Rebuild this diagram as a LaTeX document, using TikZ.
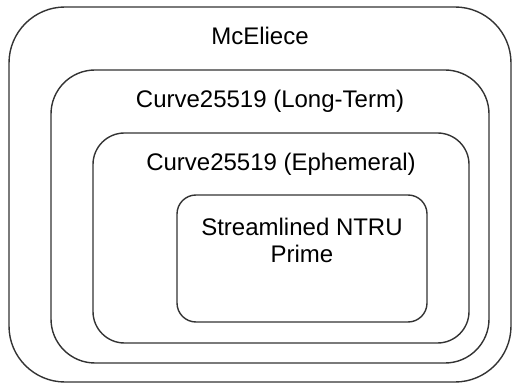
\documentclass[tikz,border=0pt]{standalone}
\usepackage{fontspec}
\setmainfont{Liberation Sans}
\usetikzlibrary{positioning}

\begin{document}
\begin{tikzpicture}
    [x=0.5pt,y=-0.5pt,
      layer/.style={rectangle,draw=black!80,line width=0.7pt,inner sep=0pt},
      caption/.style={inner sep=0pt,font=\fontsize{12}{13.5}\selectfont,align=center}
    ]
    \useasboundingbox (0,0) rectangle (513,384);

    % nested key-exchange layers, outer to inner
    \node [layer,minimum width=251pt,minimum height=187.5pt,rounded corners=28pt] (mceliece) at (260,194.5) {};
    \node [layer,minimum width=219pt,minimum height=146.5pt,rounded corners=22pt] (longTerm) at (270,216.5) {};
    \node [layer,minimum width=188pt,minimum height=105pt,rounded corners=15.75pt] (ephemeral) at (281,238) {};
    \node [layer,minimum width=125pt,minimum height=63.5pt,rounded corners=9.5pt] (ntru) at (302,258.5) {};

    \node [caption] (mcelieceText) at ([yshift=-15pt]mceliece.north) {McEliece};
    \node [caption] (longTermText) at ([yshift=-16pt]longTerm.north) {Curve25519 (Long-Term)};
    \node [caption] (ephemeralText) at ([yshift=-16pt]ephemeral.north) {Curve25519 (Ephemeral)};
    \node [caption] (ntruText) at ([yshift=-23.25pt]ntru.north) {Streamlined NTRU\\Prime};
\end{tikzpicture}
\end{document}
